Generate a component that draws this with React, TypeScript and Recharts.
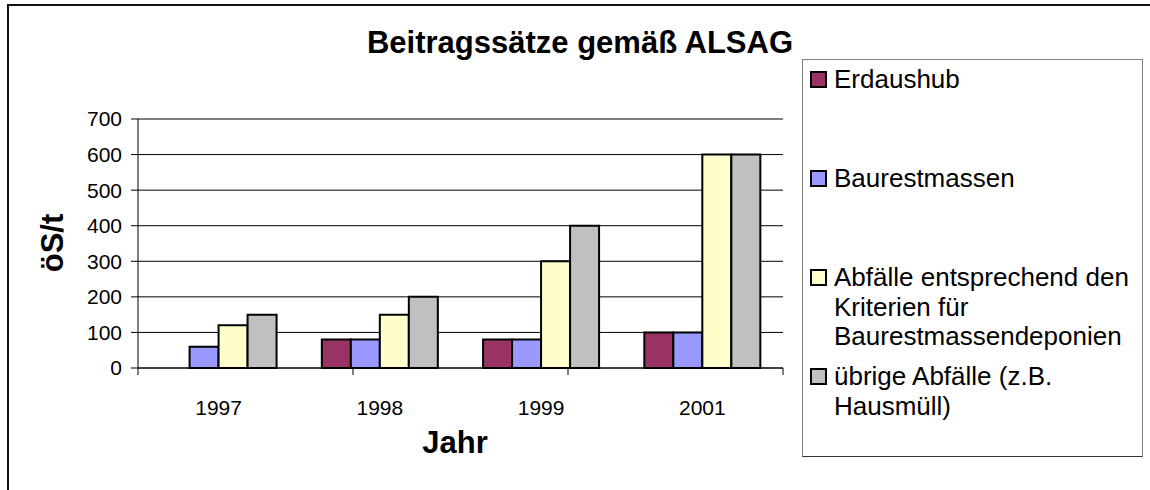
import React from 'react';
import { BarChart, Bar, XAxis, YAxis, CartesianGrid, Legend } from 'recharts';

const years = ['1997', '1998', '1999', '2001'];
const erdaushub = [null, 80, 80, 100];
const baurestmassen = [60, 80, 80, 100];
const abfaelleKriterien = [120, 150, 300, 600];
const uebrigeAbfaelle = [150, 200, 400, 600];
const seriesNames = [
  'Erdaushub',
  'Baurestmassen',
  'Abfälle entsprechend den Kriterien für Baurestmassendeponien',
  'übrige Abfälle (z.B. Hausmüll)',
];
const seriesColors = ['#993366', '#9999FF', '#FFFFCC', '#C0C0C0'];
const yTicks = [0, 100, 200, 300, 400, 500, 600, 700];
const boundaryTicks = [0, 1, 2, 3, 4];
const titleText = 'Beitragssätze gemäß ALSAG';
const xTitle = 'Jahr';
const yTitle = 'öS/t';

const seriesValues = [erdaushub, baurestmassen, abfaelleKriterien, uebrigeAbfaelle];
const data = years.map((y, i) => ({
  year: y,
  s0: seriesValues[0][i],
  s1: seriesValues[1][i],
  s2: seriesValues[2][i],
  s3: seriesValues[3][i],
}));

const FONT = '"Liberation Sans", Arial, sans-serif';

const emptyTick = () => <g />;

const renderLegend = () => (
  <div
    style={{
      width: 341,
      height: 398,
      boxSizing: 'border-box',
      border: '1.5px solid #808080',
      borderBottom: '1.5px solid #333',
      background: '#fff',
      fontFamily: FONT,
      fontSize: 26,
      lineHeight: '29.5px',
      color: '#000',
    }}
  >
    {seriesNames.map((name, i) => (
      <div
        key={name}
        style={{ height: 99, boxSizing: 'border-box', paddingTop: 5, paddingLeft: 7, display: 'flex', alignItems: 'flex-start' }}
      >
        <div
          style={{
            width: 17,
            height: 17,
            boxSizing: 'border-box',
            border: '2px solid #000',
            background: seriesColors[i],
            marginTop: 6,
            marginRight: 7,
            flex: '0 0 auto',
          }}
        />
        <div style={{ width: 306 }}>{name}</div>
      </div>
    ))}
  </div>
);

export default function App() {
  return (
    <div style={{ position: 'absolute', left: 0, top: 0, width: 1150, height: 490, overflow: 'hidden', background: '#fff', fontFamily: FONT }}>
      <div
        style={{
          position: 'absolute',
          left: 7,
          top: 4,
          width: 1200,
          height: 600,
          border: '2px solid #111',
          boxSizing: 'border-box',
        }}
      />
      <div style={{ position: 'absolute', left: 0, top: 0 }}>
        <BarChart
          width={1150}
          height={490}
          data={data}
          margin={{ top: 119, right: 367, bottom: 74, left: 78 }}
          barCategoryGap="14%"
          barGap={0}
        >
          <CartesianGrid horizontal vertical={false} stroke="#000" yAxisId="left" xAxisId="cat" />
          <XAxis
            xAxisId="bounds"
            type="number"
            domain={[0, years.length]}
            ticks={boundaryTicks}
            allowDataOverflow
            height={8}
            tick={emptyTick}
            tickSize={7}
            axisLine={{ stroke: '#000' }}
            tickLine={{ stroke: '#000' }}
          />
          <XAxis
            xAxisId="cat"
            dataKey="year"
            height={40}
            axisLine={false}
            tickLine={false}
            tickSize={0}
            tickMargin={24}
            tick={{ fill: '#000', fontSize: 21, fontFamily: FONT }}
          />
          <YAxis
            yAxisId="left"
            width={60}
            domain={[0, 700]}
            ticks={yTicks}
            tickSize={7}
            tickMargin={9}
            axisLine={{ stroke: '#000' }}
            tickLine={{ stroke: '#000' }}
            tick={{ fill: '#000', fontSize: 21, fontFamily: FONT }}
          />
          <YAxis
            yAxisId="right"
            orientation="right"
            width={0}
            domain={[0, 700]}
            tick={false}
            tickLine={false}
            axisLine={{ stroke: '#808080' }}
          />
          <Legend layout="horizontal" verticalAlign="middle" align="center" content={renderLegend} wrapperStyle={{ left: 802, top: 59, width: 341, height: 398 }} />
          {seriesNames.map((name, i) => (
            <Bar
              key={name}
              name={name}
              dataKey={'s' + i}
              xAxisId="cat"
              yAxisId="left"
              fill={seriesColors[i]}
              stroke="#000"
              strokeWidth={2}
              isAnimationActive={false}
            />
          ))}
        </BarChart>
      </div>
      <div style={{ position: 'absolute', left: 580, top: 43, transform: 'translate(-50%, -50%)', fontSize: 31, fontWeight: 'bold', whiteSpace: 'nowrap', color: '#000' }}>
        {titleText}
      </div>
      <div style={{ position: 'absolute', left: 455, top: 443, transform: 'translate(-50%, -50%)', fontSize: 31, fontWeight: 'bold', whiteSpace: 'nowrap', color: '#000' }}>
        {xTitle}
      </div>
      <div style={{ position: 'absolute', left: 53, top: 243, transform: 'translate(-50%, -50%) rotate(-90deg)', fontSize: 31, fontWeight: 'bold', whiteSpace: 'nowrap', color: '#000' }}>
        {yTitle}
      </div>
    </div>
  );
}
